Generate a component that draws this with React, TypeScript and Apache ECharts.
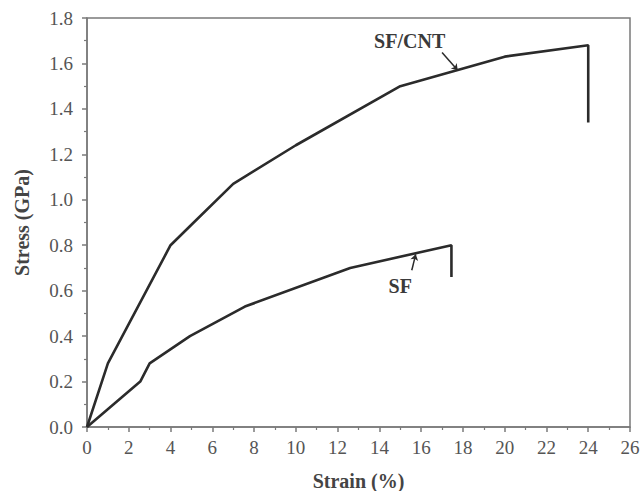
import React, { useEffect, useRef } from "react";
import * as echarts from "echarts";

const sfCntStrain = [0, 1, 4, 5, 7, 10, 15, 20, 24, 24];
const sfCntStress = [0, 0.28, 0.8, 0.89, 1.07, 1.24, 1.5, 1.63, 1.68, 1.34];
const sfStrain = [0, 2.55, 3, 4.93, 7.56, 12.6, 17.45, 17.45];
const sfStress = [0, 0.2, 0.28, 0.4, 0.53, 0.7, 0.8, 0.66];

const labels = [
  { name: "SF/CNT", at: [15.45, 1.7], from: [17.0, 1.648], to: [17.75, 1.57] },
  { name: "SF", at: [15.0, 0.62], from: [15.55, 0.69], to: [15.74, 0.76] },
];

const serif = "'Liberation Serif', 'DejaVu Serif', serif";

export default function App() {
  const ref = useRef<HTMLDivElement>(null);
  useEffect(() => {
    const chart = echarts.init(ref.current!, null, { renderer: "svg" });
    const axisColor = "#7a7a7a";
    const lineColor = "#2b2b2b";
    const mkSeries = (name: string, xs: number[], ys: number[], idx: number) => ({
      name,
      type: "line",
      data: xs.map((x, i) => [x, ys[i]]),
      showSymbol: false,
      symbol: "none",
      lineStyle: { color: lineColor, width: 2.6 },
      markLine: {
        silent: true,
        symbol: ["none", "arrow"],
        symbolSize: 6,
        label: { show: false },
        lineStyle: { color: lineColor, width: 1.5, type: "solid" },
        data: [[{ coord: labels[idx].from }, { coord: labels[idx].to }]],
      },
      markPoint: {
        silent: true,
        symbol: "circle",
        symbolSize: 0,
        label: {
          show: true,
          position: "inside",
          formatter: labels[idx].name,
          fontFamily: serif,
          fontWeight: "bold",
          fontSize: 20,
          color: "#3a3a3a",
        },
        data: [{ coord: labels[idx].at }],
      },
    });
    chart.setOption({
      animation: false,
      backgroundColor: "#fff",
      grid: {
        left: 87,
        right: 12,
        top: 18,
        bottom: 64,
        outerBoundsMode: "none",
        containLabel: false,
        show: true,
        borderColor: axisColor,
        borderWidth: 1.5,
      },
      xAxis: {
        type: "value",
        min: 0,
        max: 26,
        interval: 2,
        name: "Strain (%)",
        nameLocation: "middle",
        nameGap: 44,
        nameTextStyle: { fontFamily: serif, fontWeight: "bold", fontSize: 20, color: "#444" },
        axisLine: { show: true, lineStyle: { color: axisColor, width: 1.5 } },
        axisTick: { show: true, length: 5, lineStyle: { color: axisColor, width: 1.5 } },
        minorTick: { show: true, splitNumber: 2, length: 3, lineStyle: { color: axisColor, width: 1.2 } },
        axisLabel: { fontFamily: serif, fontSize: 19, color: "#555", margin: 11 },
        splitLine: { show: false },
      },
      yAxis: {
        type: "value",
        min: 0,
        max: 1.8,
        interval: 0.2,
        name: "Stress (GPa)",
        nameLocation: "middle",
        nameGap: 55,
        nameTextStyle: { fontFamily: serif, fontWeight: "bold", fontSize: 20, color: "#444" },
        axisLine: { show: true, lineStyle: { color: axisColor, width: 1.5 } },
        axisTick: { show: true, length: 5, lineStyle: { color: axisColor, width: 1.5 } },
        minorTick: { show: true, splitNumber: 2, length: 3, lineStyle: { color: axisColor, width: 1.2 } },
        axisLabel: {
          fontFamily: serif,
          fontSize: 19,
          color: "#555",
          margin: 14,
          formatter: (v: number) => v.toFixed(1),
        },
        splitLine: { show: false },
      },
      series: [
        mkSeries("SF/CNT", sfCntStrain, sfCntStress, 0),
        mkSeries("SF", sfStrain, sfStress, 1),
      ],
    });
    return () => chart.dispose();
  }, []);
  return <div ref={ref} style={{ width: 642, height: 491, position: "absolute", left: 0, top: 0 }} />;
}
